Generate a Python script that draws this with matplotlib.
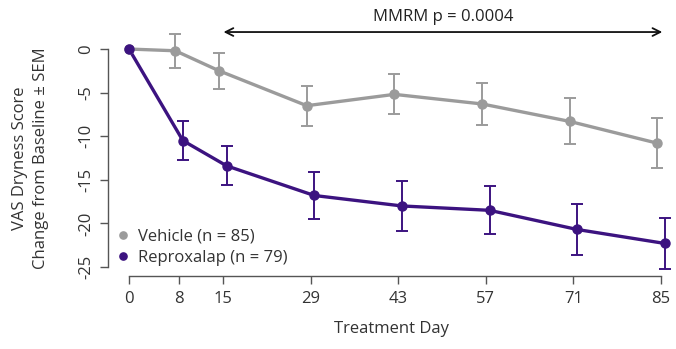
import matplotlib
matplotlib.use("Agg")
import matplotlib.pyplot as plt
import numpy as np

plt.rcParams['font.family'] = ['Open Sans', 'DejaVu Sans']

days = [0, 8, 15, 29, 43, 57, 71, 85]
vehicle_mean = [0, -0.2, -2.5, -6.5, -5.2, -6.3, -8.3, -10.8]
vehicle_sem = [0, 1.95, 2.1, 2.3, 2.3, 2.4, 2.65, 2.85]
reprox_mean = [0, -10.5, -13.4, -16.8, -18.0, -18.5, -20.7, -22.3]
reprox_sem = [0, 2.25, 2.25, 2.75, 2.9, 2.75, 2.9, 2.9]
yticks = [0, -5, -10, -15, -20, -25]
labels = ["Vehicle (n = 85)", "Reproxalap (n = 79)"]

gray = "#9b9b9b"
purple = "#3c1380"
dodge = 0.6
FS = 12

fig = plt.figure(figsize=(6.76, 3.49), dpi=100)
ax = fig.add_axes([112/676, 1-275.7/349, (672-112)/676, (275.7-9.8)/349])
ax.set_xlim(-2.72, 86.75)
ax.set_ylim(-26, 4.5)

d = np.array(days, dtype=float)
xv = np.where(d == 0, d, d - dodge)
xr = np.where(d == 0, d, d + dodge)

for x, m, s, c, lab in [(xv, vehicle_mean, vehicle_sem, gray, labels[0]),
                        (xr, reprox_mean, reprox_sem, purple, labels[1])]:
    m = np.array(m); s = np.array(s)
    mask = s > 0
    ax.errorbar(x[mask], m[mask], yerr=s[mask], fmt='none', ecolor=c,
                elinewidth=1.4, capsize=4.5, capthick=1.4, zorder=2)
    ax.plot(x, m, color=c, lw=2.4, zorder=3)
    ax.plot(x, m, 'o', color=c, ms=6.5, zorder=4, label=lab)

for side in ['top', 'right']:
    ax.spines[side].set_visible(False)
ax.spines['left'].set_position(('outward', 3))
ax.spines['left'].set_bounds(-25, 0)
ax.spines['bottom'].set_bounds(0, 85)
for side in ['left', 'bottom']:
    ax.spines[side].set_color('#555555')
    ax.spines[side].set_linewidth(1.0)

ax.set_xticks(days)
ax.set_xticklabels([str(v) for v in days])
ax.set_yticks(yticks)
ax.set_yticklabels([str(v) for v in yticks], rotation=90, va='center')
ax.tick_params(axis='both', colors='#555555', labelcolor='#333333', length=6,
               width=1.0, labelsize=FS)
ax.tick_params(axis='y', pad=4)
ax.tick_params(axis='x', pad=5)

ax.set_xlabel("Treatment Day", fontsize=FS, color='#333333', labelpad=10)
fig.text(20/676, 1-158/349, "VAS Dryness Score", rotation=90, ha='center', va='center',
         fontsize=FS, color='#333333')
fig.text(41/676, 1-158/349, "Change from Baseline ± SEM", rotation=90, ha='center', va='center',
         fontsize=FS, color='#333333')

ax.annotate('', xy=(85.2, 1.95), xytext=(15.1, 1.95),
            arrowprops=dict(arrowstyle='<->', color='#111111', lw=1.3,
                            mutation_scale=14, shrinkA=0, shrinkB=0))
ax.text(50.2, 3.67, "MMRM p = 0.0004", ha='center', va='center', fontsize=FS, color='#222222')

leg = ax.legend(loc='upper left', bbox_to_anchor=(0.0116, (-20.6 + 26) / 30.5),
                frameon=False, fontsize=FS, handlelength=0.6, handletextpad=0.55,
                labelspacing=0.32, markerscale=0.8, borderaxespad=0, borderpad=0)
for t in leg.get_texts():
    t.set_color('#333333')

fig.savefig("out.png", dpi=100)
